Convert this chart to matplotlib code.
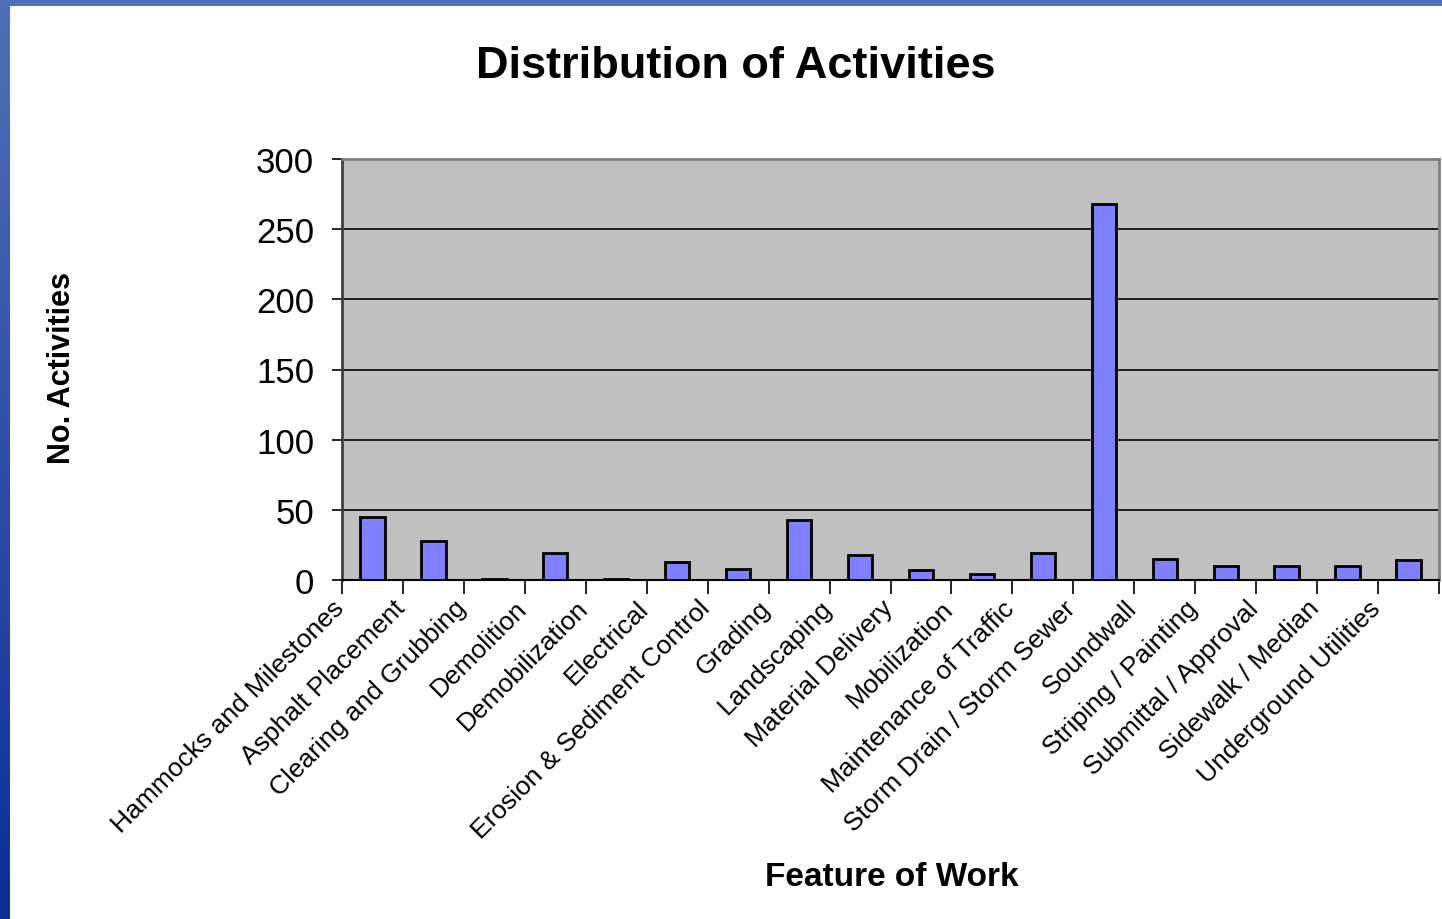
import matplotlib
matplotlib.use("Agg")
import matplotlib.pyplot as plt
import matplotlib.transforms as mtransforms
from matplotlib.patches import Rectangle
import numpy as np

# Data
categories = [
    "Hammocks and Milestones", "Asphalt Placement", "Clearing and Grubbing",
    "Demolition", "Demobilization", "Electrical", "Erosion & Sediment Control",
    "Grading", "Landscaping", "Material Delivery", "Mobilization",
    "Maintenance of Traffic", "Storm Drain / Storm Sewer", "Soundwall",
    "Striping / Painting", "Submittal / Approval", "Sidewalk / Median",
    "Underground Utilities",
]
activities = [45, 28, 1, 19, 1, 13, 8, 43, 18, 7, 4, 19, 268, 15, 10, 10, 10, 14]
y_ticks = [0, 50, 100, 150, 200, 250, 300]

plt.rcParams["font.family"] = ["Liberation Sans", "DejaVu Sans"]

W, H = 1442, 920
fig = plt.figure(figsize=(W / 100, H / 100), dpi=100)
fig.patch.set_facecolor("white")

# slide frame: blue bar on top, gradient bar on left
fig.patches.append(Rectangle((0, 1 - 7 / H), 1, 7 / H, transform=fig.transFigure,
                             facecolor="#5170B7", edgecolor="none", zorder=0))
band = fig.add_axes([0, 0, 10 / W, 1])
grad = np.linspace(0, 1, 256).reshape(-1, 1)
top_c = np.array([0x51, 0x70, 0xB7]) / 255
bot_c = np.array([0x0E, 0x2E, 0x98]) / 255
img = top_c + (bot_c - top_c) * grad[:, :, None]
band.imshow(img, aspect="auto", extent=[0, 1, 0, 1], origin="upper")
band.set_axis_off()

left, right, top, bottom = 342, 1439, 160, 581
ax = fig.add_axes([left / W, 1 - bottom / H, (right - left) / W, (bottom - top) / H])
ax.set_facecolor("#C0C0C0")

x = np.arange(len(categories))
ax.bar(x, activities, width=0.4, color="#8080FF", edgecolor="black", linewidth=2, zorder=3)

ax.set_xlim(-0.5, len(categories) - 0.5)
ax.set_ylim(0, 300)
ax.set_yticks(y_ticks)
ax.set_yticklabels([str(v) for v in y_ticks], fontsize=25)
ax.yaxis.grid(True, color="black", linewidth=1.2, zorder=1)
ax.tick_params(axis="y", direction="out", length=7, width=1.2, pad=13)

ax.set_xticks(x)
ax.set_xticklabels(categories, fontsize=19, rotation=45, ha="right",
                   va="center", rotation_mode="anchor")
ax.set_xticks(np.arange(len(categories) + 1) - 0.5, minor=True)
ax.tick_params(axis="x", which="major", length=0, pad=0)
ax.tick_params(axis="x", which="minor", direction="out", length=10, width=1.2)
offset = mtransforms.ScaledTranslation(-32 / 100, -24 / 100, fig.dpi_scale_trans)
for lbl in ax.get_xticklabels():
    lbl.set_transform(lbl.get_transform() + offset)

for side in ["top", "right"]:
    ax.spines[side].set_color("#808080")
    ax.spines[side].set_linewidth(2)
ax.spines["left"].set_color("#404040")
ax.spines["left"].set_linewidth(2)
ax.spines["bottom"].set_color("black")
ax.spines["bottom"].set_linewidth(1.5)

fig.text(736 / W, 1 - 66 / H, "Distribution of Activities", fontsize=32.5,
         fontweight="bold", ha="center", va="center")
fig.text(62 / W, 1 - 368 / H, "No. Activities", fontsize=22, fontweight="bold",
         rotation=90, ha="center", va="center")
fig.text(892 / W, 1 - 878 / H, "Feature of Work", fontsize=24, fontweight="bold",
         ha="center", va="center")

fig.savefig("out.png", dpi=100)
